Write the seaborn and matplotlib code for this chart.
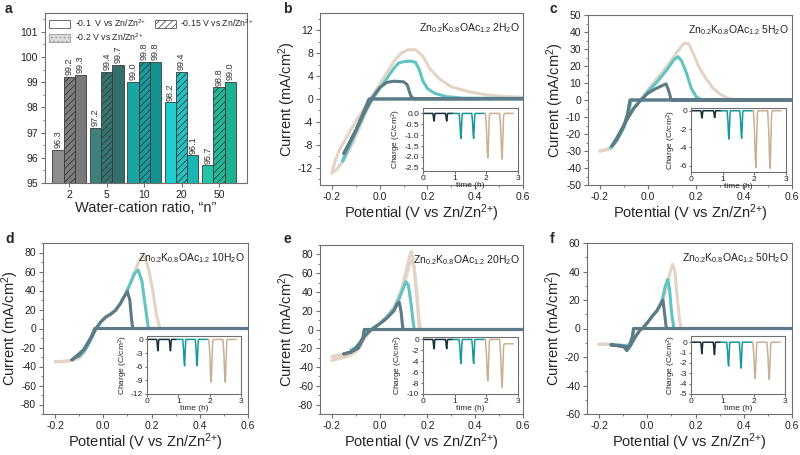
import numpy as np
import pandas as pd
import seaborn as sns
import matplotlib.pyplot as plt
from matplotlib.patches import Patch
from matplotlib.ticker import MultipleLocator

sns.set_style("ticks")
plt.rcParams['font.family'] = ['Liberation Sans', 'DejaVu Sans']
plt.rcParams['mathtext.default'] = 'regular'
plt.rcParams['axes.unicode_minus'] = False
plt.rcParams['hatch.linewidth'] = 0.6


## Panel a: coulombic efficiency bars
ratio_labels = ["2", "5", "10", "20", "50"]
volt_labels = ["-0.1 V", "-0.15 V", "-0.2 V"]
ce_01V = [96.3, 97.2, 99.0, 98.2, 95.7]
ce_015V = [99.2, 99.4, 99.8, 99.4, 98.8]
ce_02V = [99.3, 99.7, 99.8, 96.1, 99.0]
group_colors = [["#8e8e8e", "#7d7d7d", "#7a7a7a"],
                ["#3d807c", "#357470", "#336f6c"],
                ["#1ba4a4", "#189c9c", "#179292"],
                ["#23cccc", "#1fc4c4", "#1cb5b5"],
                ["#22c6a4", "#1fba99", "#1db190"]]

## CV curves (potential V, current mA/cm2), one closed cycle each
# b: 2H2O
b_tan_E = [-0.2, -0.19, -0.17, -0.13, -0.09, -0.06, -0.04, 0.0, 0.03, 0.06, 0.09, 0.12, 0.15, 0.18, 0.21, 0.25, 0.3, 0.38, 0.45, 0.52, 0.6,
           0.6, -0.035, -0.05, -0.08, -0.11, -0.15, -0.18, -0.2]
b_tan_I = [-12.9, -11.2, -9.0, -6.0, -3.2, -1.4, 0.0, 2.6, 4.6, 6.6, 8.0, 8.6, 8.6, 7.5, 5.3, 3.5, 2.1, 1.2, 0.7, 0.45, 0.3,
           0.05, 0.05, -1.5, -4.6, -7.4, -10.6, -12.3, -12.9]
b_teal_E = [-0.155, -0.12, -0.09, -0.06, -0.04, -0.02, 0.0, 0.03, 0.06, 0.08, 0.1, 0.13, 0.15, 0.165, 0.18, 0.2, 0.23, 0.28, 0.35, 0.6,
            0.6, -0.04, -0.06, -0.09, -0.12, -0.155]
b_teal_I = [-10.8, -7.5, -4.8, -2.2, -0.7, 0.6, 1.8, 3.6, 5.4, 6.3, 6.5, 6.6, 6.4, 5.2, 3.2, 1.8, 1.0, 0.4, 0.15, 0.1,
            0.0, 0.0, -1.8, -4.5, -7.6, -10.8]
b_dark_E = [-0.15, -0.1, -0.06, -0.03, 0.0, 0.03, 0.06, 0.1, 0.115, 0.13, 0.14, 0.6, -0.045, -0.07, -0.1, -0.15]
b_dark_I = [-9.5, -5.5, -2.0, 0.3, 2.0, 2.9, 3.1, 3.0, 2.5, 0.6, 0.05, 0.05, 0.0, -2.5, -5.5, -9.5]

# c: 5H2O
c_tan_E = [-0.2, -0.17, -0.15, -0.12, -0.09, -0.06, -0.03, 0.0, 0.04, 0.08, 0.12, 0.15, 0.17, 0.19, 0.21, 0.24, 0.27, 0.3, 0.33, 0.37, 0.6,
           -0.075, -0.085, -0.1, -0.13, -0.16, -0.2]
c_tan_I = [-30, -29, -27, -20, -12, -5, 0, 6, 13, 20, 28, 33.5, 33, 27, 20, 13, 7, 3.5, 1.2, 0, 0,
           0, -8, -16, -24, -29, -30]
c_teal_E = [-0.155, -0.12, -0.09, -0.06, -0.03, 0.0, 0.04, 0.08, 0.11, 0.125, 0.14, 0.16, 0.18, 0.2, 0.22, 0.6,
            -0.07, -0.08, -0.1, -0.13, -0.155]
c_teal_I = [-28, -21, -12, -5, 0, 5, 11, 18, 24, 25.5, 23, 16, 7, 2, 0.3, 0,
            0, -7, -16, -24, -28]
c_dark_E = [-0.15, -0.12, -0.09, -0.06, -0.03, 0.0, 0.03, 0.06, 0.075, 0.085, 0.095, 0.1, 0.6,
            -0.075, -0.085, -0.1, -0.13, -0.15]
c_dark_I = [-27, -20, -12, -5, 0, 4, 6.5, 8.5, 9.5, 6, 1, 0, 0,
            0, -8, -15, -23, -27]

# d: 10H2O
d_tan_E = [-0.2, -0.15, -0.11, -0.09, -0.065, -0.045, -0.03, -0.01, 0.01, 0.03, 0.05, 0.07, 0.09, 0.11, 0.13, 0.15, 0.16, 0.175, 0.19, 0.205, 0.22, 0.235, 0.6,
           -0.035, -0.045, -0.06, -0.08, -0.1, -0.14, -0.2]
d_tan_I = [-35, -34.5, -32, -28, -18.5, -8, 0, 7, 12, 15, 19, 26, 35, 47, 60, 72, 76, 74, 60, 40, 15, 0, 0,
           0, -6, -15, -25, -31, -34, -35]
d_teal_E = [-0.1, -0.08, -0.065, -0.045, -0.03, -0.01, 0.01, 0.03, 0.05, 0.07, 0.09, 0.11, 0.13, 0.145, 0.16, 0.175, 0.187, 0.6,
            -0.035, -0.05, -0.07, -0.1]
d_teal_I = [-29, -24, -18, -8, 0, 7, 12, 15, 19, 26, 35, 46, 58, 61.5, 50, 22, 0, 0,
            0, -10, -20, -29]
d_dark_E = [-0.13, -0.1, -0.08, -0.06, -0.045, -0.03, -0.01, 0.01, 0.03, 0.05, 0.07, 0.09, 0.1, 0.11, 0.117, 0.122, 0.6,
            -0.035, -0.05, -0.08, -0.13]
d_dark_I = [-33, -28, -22, -14, -7, 0, 7, 12, 15, 19, 26, 35, 39, 30, 10, 0, 0,
            0, -9, -22, -33]

# e: 20H2O (two tan cycles)
e_tan1_E = [-0.2, -0.16, -0.12, -0.09, -0.07, -0.05, -0.03, 0.0, 0.03, 0.06, 0.09, 0.11, 0.125, 0.132, 0.14, 0.15, 0.16, 0.165, 0.6,
            -0.06, -0.065, -0.08, -0.1, -0.14, -0.2]
e_tan1_I = [-33, -29, -25, -20, -12, -5, 0, 6, 14, 24, 42, 62, 78, 83, 76, 50, 20, 0, 0,
            0, -8, -18, -24, -29, -33]
e_tan2_E = [-0.2, -0.16, -0.12, -0.1, -0.08, -0.06, -0.035, 0.0, 0.03, 0.06, 0.09, 0.11, 0.125, 0.135, 0.145, 0.155, 0.165, 0.17, 0.6,
            -0.065, -0.075, -0.09, -0.12, -0.2]
e_tan2_I = [-29, -27, -25, -22, -14, -6, 0, 7, 14, 23, 38, 55, 70, 74, 65, 40, 10, 0, 0,
            0, -10, -20, -25, -29]
e_teal_E = [-0.12, -0.1, -0.08, -0.06, -0.035, 0.0, 0.03, 0.06, 0.08, 0.1, 0.11, 0.12, 0.13, 0.14, 0.145, 0.6,
            -0.06, -0.07, -0.09, -0.12]
e_teal_I = [-22, -19, -13, -6, 0, 6, 13, 22, 32, 45, 51, 47, 30, 8, 0, 0,
            0, -10, -18, -22]
e_dark_E = [-0.15, -0.12, -0.1, -0.08, -0.06, -0.035, 0.0, 0.03, 0.06, 0.075, 0.082, 0.09, 0.095, 0.098, 0.6,
            -0.065, -0.07, -0.09, -0.12, -0.15]
e_dark_I = [-26, -24, -20, -13, -6, 0, 6, 12, 20, 28, 29, 18, 5, 0, 0,
            0, -10, -20, -24, -26]

# f: 50H2O
f_tan_E = [-0.2, -0.15, -0.12, -0.1, -0.085, -0.07, -0.05, -0.03, -0.02, 0.0, 0.02, 0.04, 0.06, 0.08, 0.095, 0.105, 0.115, 0.125, 0.135, 0.14, 0.6,
           -0.055, -0.06, -0.07, -0.09, -0.12, -0.2]
f_tan_I = [-11, -11, -11.5, -12, -14, -11, -6, -1, 0, 4, 8.5, 12, 18, 28, 40, 45, 40, 20, 5, 0, 0,
           0, -5, -10, -12, -11.5, -11]
f_teal_E = [-0.15, -0.1, -0.085, -0.07, -0.05, -0.03, -0.02, 0.0, 0.02, 0.04, 0.06, 0.075, 0.085, 0.092, 0.1, 0.11, 0.6,
            -0.057, -0.062, -0.075, -0.1, -0.15]
f_teal_I = [-11.5, -12, -15, -12, -6, -1, 0, 4, 8.5, 12.5, 19, 30, 34.5, 28, 12, 0, 0,
            0, -6, -12, -12, -11.5]
f_dark_E = [-0.15, -0.1, -0.085, -0.07, -0.05, -0.03, -0.02, 0.0, 0.02, 0.04, 0.055, 0.065, 0.072, 0.079, 0.6,
            -0.057, -0.062, -0.075, -0.1, -0.15]
f_dark_I = [-11.5, -12.5, -15.5, -12, -6, -1, 0, 4, 8.5, 12.5, 17, 20, 10, 0, 0,
            0, -6, -13, -12.5, -11.5]

## Inset charge-vs-time: dip centres (h) and depths (C/cm2)
dip_times = [[0.35, 0.75], [1.2, 1.6], [2.05, 2.5]]
segment_spans = [[0.0, 0.95], [0.95, 1.95], [1.95, 2.85]]
dip_dt = [-0.06, -0.035, -0.015, 0.0, 0.015, 0.035, 0.05]
dip_frac = [0.0, 0.35, 0.85, 1.0, 0.6, 0.05, 0.0]
dip_width = [0.7, 1.0, 1.3]
b_depths = [[0.35, 0.35], [1.15, 1.15], [2.05, 2.1]]
c_depths = [[0.8, 0.75], [3.1, 3.0], [6.2, 6.3]]
d_depths = [[2.5, 2.5], [5.8, 5.8], [9.4, 9.4]]
e_depths = [[1.7, 1.7], [4.4, 4.4], [7.6, 8.8]]
f_depths = [[1.1, 1.2], [2.3, 2.5], [3.5, 3.6]]
e_tan_end = -0.8   # tan trace in e stays at -0.8 after the last dip

cv_colors = ["#e3d4c5", "#62c3c3", "#5d7b86"]
inset_colors = ["#15313b", "#16999c", "#c8b094"]

ZN = "Zn/Zn$^{2{+}}$"


def box(l, t, r, b):
    return [l / 800, 1 - b / 455, (r - l) / 800, (b - t) / 455]


def style_axes(ax):
    for s in ax.spines.values():
        s.set_color("#707070")
        s.set_linewidth(0.8)
    ax.tick_params(which="both", direction="out", colors="#707070", labelcolor="#222222")


fig = plt.figure(figsize=(8, 4.55), dpi=100)

#----------------------------------------- Panel a -------------------------------------------------#
ax_a = fig.add_axes(box(45, 13, 247, 183))
bar_df = pd.DataFrame({
    "n": ratio_labels * 3,
    "voltage": [volt_labels[0]] * 5 + [volt_labels[1]] * 5 + [volt_labels[2]] * 5,
    "ce": ce_01V + ce_015V + ce_02V,
})
sns.barplot(data=bar_df, x="n", y="ce", hue="voltage", order=ratio_labels, hue_order=volt_labels,
            width=0.9, errorbar=None, legend=False, saturation=1, ax=ax_a)
values = [ce_01V, ce_015V, ce_02V]
for i, container in enumerate(ax_a.containers):
    for j, bar in enumerate(container):
        bar.set_facecolor(group_colors[j][i])
        bar.set_edgecolor("#3a3a3a")
        bar.set_linewidth(0.6)
        if i == 1:
            bar.set_hatch("/////")
        ax_a.text(bar.get_x() + bar.get_width() / 2, values[i][j] + 0.07, f"{values[i][j]:.1f}",
                  rotation=90, ha="center", va="bottom", fontsize=6.5, color="#333333")
ax_a.set_ylim(95, 101.75)
ax_a.set_xlim(-0.65, 4.75)
ax_a.yaxis.set_major_locator(MultipleLocator(1))
ax_a.yaxis.set_minor_locator(MultipleLocator(0.5))
ax_a.set_xlabel("Water-cation ratio, \u201cn\u201d", fontsize=10.5, labelpad=1)
ax_a.set_ylabel("")
ax_a.tick_params(labelsize=7.5, length=3, pad=2)
ax_a.tick_params(which="minor", length=1.5)
style_axes(ax_a)
handles = [Patch(facecolor="white", edgecolor="#555555", linewidth=0.6),
           Patch(facecolor="#dcdcdc", edgecolor="#999999", linewidth=0.6, hatch="...."),
           Patch(facecolor="white", edgecolor="#555555", linewidth=0.6, hatch="/////")]
ax_a.legend(handles, ["-0.1  V vs " + ZN, "-0.2 V vs " + ZN, "-0.15 V vs " + ZN],
            ncol=2, loc="upper left", fontsize=6.3, frameon=False, handlelength=2.4, handleheight=1.1,
            columnspacing=1.0, borderaxespad=0.1, labelspacing=0.25, handletextpad=0.5)


#----------------------------------------- CV panels -----------------------------------------------#
def cv_panel(rect, curves, ylim, ystep, yminor, title):
    ax = fig.add_axes(rect)
    for E, I, col in curves:
        sns.lineplot(x=E, y=I, sort=False, estimator=None, color=col, lw=2.2, ax=ax,
                     solid_joinstyle="round", solid_capstyle="round")
    ax.set_xlim(-0.25, 0.6)
    ax.set_ylim(*ylim)
    ax.xaxis.set_major_locator(MultipleLocator(0.2))
    ax.xaxis.set_minor_locator(MultipleLocator(0.1))
    ax.yaxis.set_major_locator(MultipleLocator(ystep))
    ax.yaxis.set_minor_locator(MultipleLocator(yminor))
    ax.set_xlabel("Potential (V vs " + ZN + ")", fontsize=10.5, labelpad=0)
    ax.set_ylabel("Current (mA/cm$^2$)", fontsize=10.5, labelpad=0)
    ax.tick_params(labelsize=7.5, length=3, pad=2)
    ax.tick_params(which="minor", length=1.5)
    ax.text(0.985, 0.95, title, transform=ax.transAxes, ha="right", va="top", fontsize=7.5, color="#222222")
    style_axes(ax)
    return ax


def inset_panel(rect, depths, ylim, ystep, fmt, end_level=0.0):
    ax = fig.add_axes(rect)
    ax.set_facecolor("white")
    for k in range(3):
        t = [segment_spans[k][0]]
        q = [0.0]
        for m, tc in enumerate(dip_times[k]):
            base_after = end_level if (k == 2 and m == 1) else 0.0
            for dt, fr in zip(dip_dt, dip_frac):
                t.append(tc + dt * dip_width[k])
                lvl = base_after if dt > 0 else 0.0
                q.append(lvl - fr * (depths[k][m] + (lvl if dt > 0 else 0)))
        t.append(segment_spans[k][1])
        q.append(end_level if k == 2 else 0.0)
        sns.lineplot(x=t, y=q, sort=False, estimator=None, color=inset_colors[k], lw=1.1, ax=ax)
    ax.set_xlim(0, 3)
    ax.set_ylim(*ylim)
    ax.xaxis.set_major_locator(MultipleLocator(1))
    ax.yaxis.set_major_locator(MultipleLocator(ystep))
    ax.yaxis.set_major_formatter(fmt)
    ax.tick_params(labelsize=6, length=1.8, pad=1)
    ax.set_xlabel("time (h)", fontsize=6, labelpad=0)
    ax.set_ylabel("Charge (C/cm$^2$)", fontsize=6, labelpad=1)
    style_axes(ax)
    return ax


title_fmt = "Zn$_{0.2}$K$_{0.8}$OAc$_{1.2}$ %s"

cv_panel(box(320, 13, 523, 185),
         [(b_tan_E, b_tan_I, cv_colors[0]), (b_teal_E, b_teal_I, cv_colors[1]), (b_dark_E, b_dark_I, cv_colors[2])],
         (-15, 15), 4, 2, title_fmt % "2H$_2$O")
inset_panel(box(423, 108, 518, 171), b_depths, (-2.65, 0.25), 0.5, "{x:.1f}")

cv_panel(box(588, 15, 792, 185),
         [(c_tan_E, c_tan_I, cv_colors[0]), (c_teal_E, c_teal_I, cv_colors[1]), (c_dark_E, c_dark_I, cv_colors[2])],
         (-50, 50), 10, 5, title_fmt % "5H$_2$O")
inset_panel(box(691, 108, 786, 172), c_depths, (-6.7, 0.3), 2, "{x:.0f}")

cv_panel(box(43, 243, 248, 414),
         [(d_tan_E, d_tan_I, cv_colors[0]), (d_teal_E, d_teal_I, cv_colors[1]), (d_dark_E, d_dark_I, cv_colors[2])],
         (-90, 90), 20, 10, title_fmt % "10H$_2$O")
inset_panel(box(147, 336, 241, 394), d_depths, (-12, 0.75), 3, "{x:.0f}")

cv_panel(box(320, 245, 523, 414),
         [(e_tan1_E, e_tan1_I, cv_colors[0]), (e_tan2_E, e_tan2_I, cv_colors[0]),
          (e_teal_E, e_teal_I, cv_colors[1]), (e_dark_E, e_dark_I, cv_colors[2])],
         (-90, 90), 20, 10, title_fmt % "20H$_2$O")
inset_panel(box(423, 337, 518, 394), e_depths, (-10, 0.45), 2, "{x:.0f}", end_level=e_tan_end)

cv_panel(box(587, 243, 792, 414),
         [(f_tan_E, f_tan_I, cv_colors[0]), (f_teal_E, f_teal_I, cv_colors[1]), (f_dark_E, f_dark_I, cv_colors[2])],
         (-60, 60), 20, 10, title_fmt % "50H$_2$O")
inset_panel(box(691, 336, 785, 394), f_depths, (-5, 0.6), 1, "{x:.0f}")

# panel letters
for letter, (px, py) in zip("abcdef", [(5, 9), (283, 9), (549, 9), (5, 239), (284, 239), (550, 239)]):
    fig.text(px / 800, 1 - py / 455, letter, fontsize=10, fontweight="bold", va="center", ha="left")

fig.savefig("out.png", dpi=100)
plt.close()
